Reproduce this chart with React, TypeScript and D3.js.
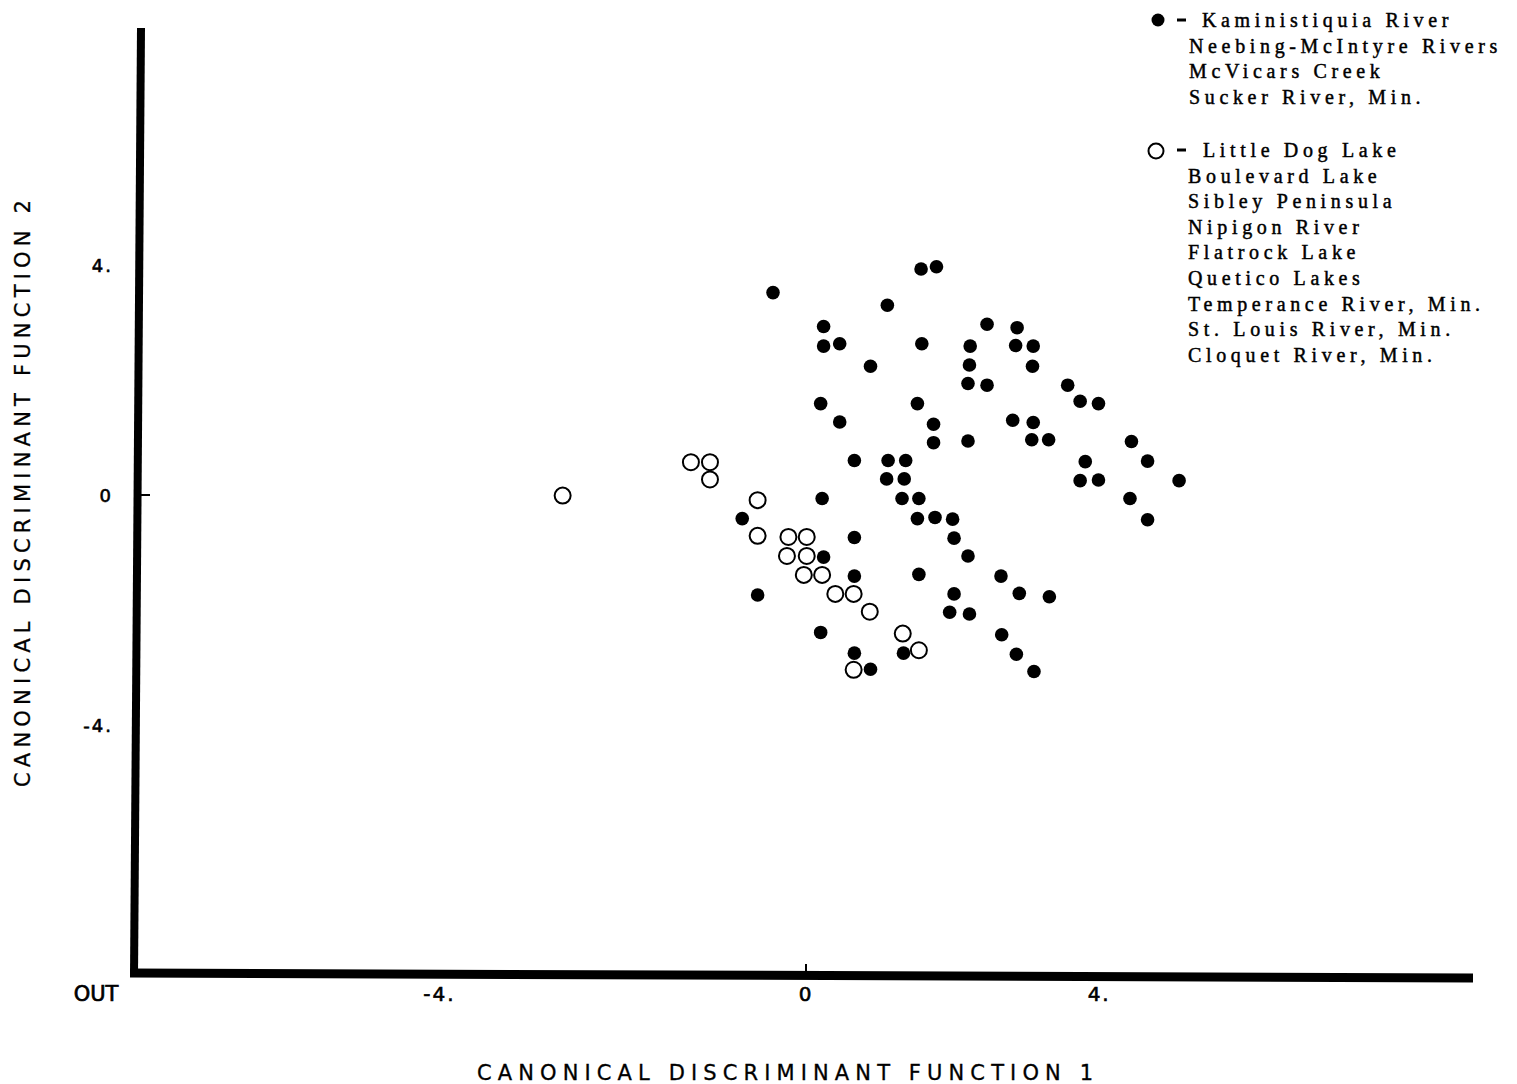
import React from "react";
import * as d3 from "d3";

// ---- Data ----
const groupNames = ["Kaministiquia group", "Little Dog Lake group"];

const filledX = [
  -0.45, 1.11, 0.24, 2.47, 0.24, 0.46, 1.58, 2.24, 0.88, 2.23, 2.21, 2.47, 0.2, 1.52, 0.46, 1.74, 1.74, 2.21,
  0.66, 1.12, 1.36, 1.1, 1.34, 0.22, 1.31, 1.54, -0.87, 1.52, 1.76, 2.0, 0.66, 2.02, 0.24, 2.21, 0.66, 1.54,
  -0.66, 2.02, 1.96, 2.23, 0.2, 1.33, 0.66, 0.88, 1.57, 1.78, 2.88, 2.86, 3.1, 3.09, 3.57, 3.74, 3.99, 2.82,
  3.1, 3.08, 3.31, 4.44, 3.81, 4.66, 3.74, 3.99, 5.09, 4.42, 4.66, 2.66, 2.91, 3.32, 2.67, 2.87, 3.11,
];
const filledY = [
  3.52, 3.3, 2.93, 2.97, 2.59, 2.63, 2.63, 2.59, 2.24, 2.26, 1.94, 1.91, 1.59, 1.59, 1.27, 1.23, 0.91, 0.94,
  0.6, 0.6, 0.6, 0.28, 0.28, -0.06, -0.06, -0.06, -0.41, -0.41, -0.39, -0.42, -0.74, -0.75, -1.08, -1.06, -1.41, -1.38,
  -1.74, -1.72, -2.04, -2.07, -2.39, -2.75, -2.75, -3.03, 3.93, 3.97, 2.91, 2.6, 2.59, 2.24, 1.91, 1.63, 1.59, 1.3,
  1.26, 0.96, 0.96, 0.93, 0.58, 0.59, 0.25, 0.26, 0.25, -0.06, -0.43, -1.41, -1.71, -1.77, -2.43, -2.77, -3.07,
];

const openX = [-3.32, -1.57, -1.31, -1.31, -0.66, -0.66, -0.24, 0.01, -0.26, 0.01, -0.03, 0.22, 0.4, 0.65, 0.87, 1.32, 1.54, 0.65];
const openY = [-0.01, 0.57, 0.57, 0.27, -0.09, -0.71, -0.73, -0.73, -1.06, -1.06, -1.39, -1.39, -1.72, -1.72, -2.03, -2.41, -2.7, -3.04];

const legendFilled = ["Kaministiquia River", "Neebing-McIntyre Rivers", "McVicars Creek", "Sucker River, Min."];
const legendOpen = [
  "Little Dog Lake",
  "Boulevard Lake",
  "Sibley Peninsula",
  "Nipigon River",
  "Flatrock Lake",
  "Quetico Lakes",
  "Temperance River, Min.",
  "St. Louis River, Min.",
  "Cloquet River, Min.",
];

const xTickPos = [-5, 0, 4];
const xTickText = ["-4.", "0", "4."];
const yTickPos = [4, 0, -4];
const yTickText = ["4.", "0", "-4."];

const xTitle = "CANONICAL DISCRIMINANT FUNCTION 1";
const yTitle = "CANONICAL DISCRIMINANT FUNCTION 2";

export default function App() {
  const W = 1517;
  const H = 1084;
  const x = d3.scaleLinear().domain([0, 4]).range([806, 1099.2]);
  const y = d3.scaleLinear().domain([0, 4]).range([495, 265]);

  const filled = filledX.map((v, i) => ({ x: v, y: filledY[i] }));
  const open = openX.map((v, i) => ({ x: v, y: openY[i] }));

  const sans = "'DejaVu Sans', sans-serif";
  const serif = "'Liberation Serif', serif";
  const lineH = 25.6;

  return (
    <svg
      width={W}
      height={H}
      viewBox={`0 0 ${W} ${H}`}
      style={{ position: "absolute", left: 0, top: 0, background: "#fff" }}
      aria-label={groupNames.join(" vs ")}
    >
      <rect x={0} y={0} width={W} height={H} fill="#fff" />
      {/* axes */}
      <line x1={141} y1={28} x2={134} y2={977} stroke="#000" strokeWidth={8} />
      <line x1={130} y1={973} x2={1473} y2={978} stroke="#000" strokeWidth={9} />
      {/* small ticks at zero */}
      <line x1={140} x2={150} y1={y(0)} y2={y(0)} stroke="#000" strokeWidth={2} />
      <line x1={x(0)} x2={x(0)} y1={964} y2={972} stroke="#000" strokeWidth={2} />

      {/* y tick labels */}
      {yTickPos.map((v, i) => (
        <text
          key={"yt" + i}
          x={113}
          y={y(v) + 7}
          textAnchor="end"
          fontFamily={sans}
          fontSize={18}
          letterSpacing={2}
          fill="#000"
          stroke="#000"
          strokeWidth={0.6}
        >
          {yTickText[i]}
        </text>
      ))}
      {/* x tick labels */}
      {xTickPos.map((v, i) => (
        <text
          key={"xt" + i}
          x={x(v)}
          y={1001}
          textAnchor="middle"
          fontFamily={sans}
          fontSize={20}
          letterSpacing={2}
          fill="#000"
          stroke="#000"
          strokeWidth={0.6}
        >
          {xTickText[i]}
        </text>
      ))}
      <text
        x={96}
        y={1001}
        textAnchor="middle"
        fontFamily={sans}
        fontSize={21}
        fill="#000"
        stroke="#000"
        strokeWidth={0.7}
      >
        OUT
      </text>

      {/* axis titles */}
      <text
        x={477}
        y={1080}
        fontFamily={sans}
        fontSize={21}
        textLength={616}
        lengthAdjust="spacing"
        fill="#000"
        stroke="#000"
        strokeWidth={0.3}
      >
        {xTitle}
      </text>
      <text
        transform="translate(30,787) rotate(-90)"
        x={0}
        y={0}
        fontFamily={sans}
        fontSize={21}
        textLength={587}
        lengthAdjust="spacing"
        fill="#000"
        stroke="#000"
        strokeWidth={0.3}
      >
        {yTitle}
      </text>

      {/* points */}
      {filled.map((d, i) => (
        <circle key={"f" + i} cx={x(d.x)} cy={y(d.y)} r={6.8} fill="#000" />
      ))}
      {open.map((d, i) => (
        <circle key={"o" + i} cx={x(d.x)} cy={y(d.y)} r={8} fill="none" stroke="#000" strokeWidth={2} />
      ))}

      {/* legend */}
      <circle cx={1158} cy={20} r={6.5} fill="#000" />
      <line x1={1177} x2={1186} y1={20} y2={20} stroke="#000" strokeWidth={3} />
      {legendFilled.map((t, i) => (
        <text
          key={"lf" + i}
          x={i === 0 ? 1202 : 1189}
          y={27 + i * lineH}
          fontFamily={serif}
          fontSize={20}
          letterSpacing={4.65}
          fill="#000"
          stroke="#000"
          strokeWidth={0.45}
        >
          {t}
        </text>
      ))}
      <circle cx={1156} cy={151} r={7.5} fill="none" stroke="#000" strokeWidth={2} />
      <line x1={1177} x2={1186} y1={150} y2={150} stroke="#000" strokeWidth={3} />
      {legendOpen.map((t, i) => (
        <text
          key={"lo" + i}
          x={i === 0 ? 1203 : 1188}
          y={157 + i * lineH}
          fontFamily={serif}
          fontSize={20}
          letterSpacing={4.65}
          fill="#000"
          stroke="#000"
          strokeWidth={0.45}
        >
          {t}
        </text>
      ))}
    </svg>
  );
}
